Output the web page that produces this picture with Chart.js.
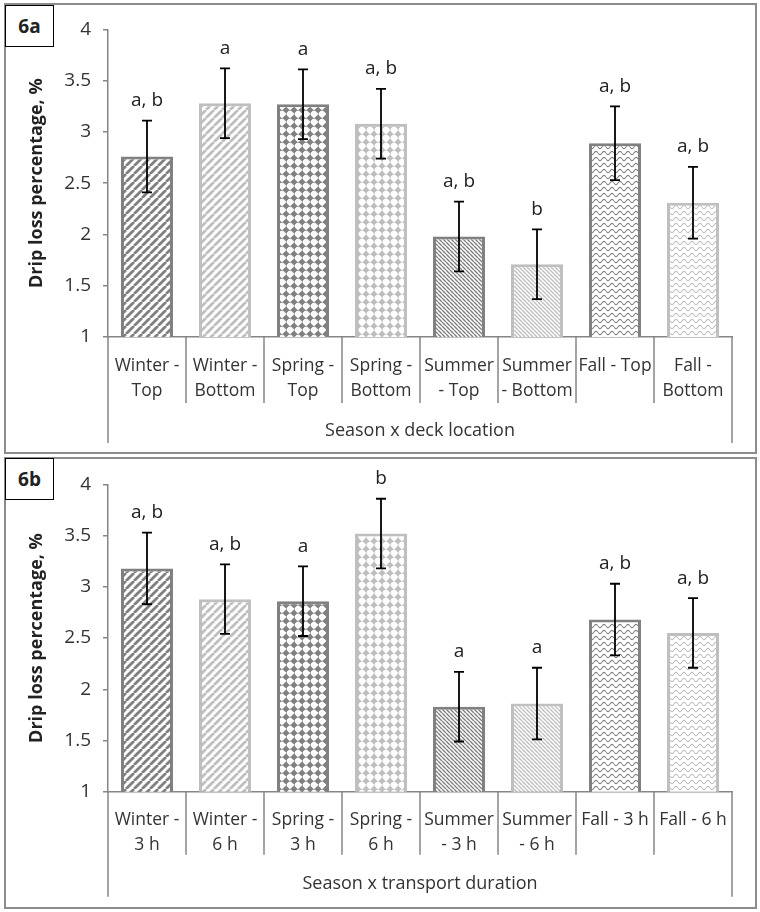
<!DOCTYPE html>
<html><head><meta charset="utf-8">
<script src="https://cdn.jsdelivr.net/npm/chart.js@4/dist/chart.umd.min.js"></script>
<style>
html,body{margin:0;padding:0;background:#fff;}
body{width:760px;height:912px;position:relative;overflow:hidden;font-family:'Open Sans',sans-serif;}
.panel{position:absolute;left:4px;width:753px;box-sizing:border-box;border:2px solid #8c8c8c;}
#pa{top:3px;height:451px;}
#pb{top:457px;height:452px;}
.tag{position:absolute;left:5px;width:49px;height:42px;box-sizing:border-box;border:1.5px solid #000;background:#fff;
 font:bold 19px 'Open Sans',sans-serif;color:#222;display:flex;align-items:center;justify-content:center;z-index:5;}
#ta{top:5px;}
#tb{top:458px;}
.cv{position:absolute;left:6px;}
</style>
</head><body>
<div class="panel" id="pa"></div>
<div class="panel" id="pb"></div>
<div class="tag" id="ta">6a</div>
<div class="tag" id="tb">6b</div>
<div class="cv" id="wa" style="top:6px;width:749px;height:445px;"><canvas id="ca"></canvas></div>
<div class="cv" id="wb" style="top:461px;width:749px;height:446px;"><canvas id="cb"></canvas></div>
<script>
// ---------- data ----------
const categoriesA = [["Winter -","Top"],["Winter -","Bottom"],["Spring -","Top"],["Spring -","Bottom"],["Summer","- Top"],["Summer","- Bottom"],["Fall - Top"],["Fall -","Bottom"]];
const valuesA = [2.76, 3.28, 3.27, 3.08, 1.98, 1.71, 2.89, 2.31];
const errorsA = [0.35, 0.34, 0.34, 0.34, 0.34, 0.34, 0.36, 0.35];
const lettersA = ["a, b","a","a","a, b","a, b","b","a, b","a, b"];
const xTitleA = "Season x deck location";

const categoriesB = [["Winter -","3 h"],["Winter -","6 h"],["Spring -","3 h"],["Spring -","6 h"],["Summer","- 3 h"],["Summer","- 6 h"],["Fall - 3 h"],["Fall - 6 h"]];
const valuesB = [3.18, 2.88, 2.86, 3.52, 1.83, 1.86, 2.68, 2.55];
const errorsB = [0.35, 0.34, 0.34, 0.34, 0.34, 0.35, 0.35, 0.34];
const lettersB = ["a, b","a, b","a","b","a","a","a, b","a, b"];
const xTitleB = "Season x transport duration";

const yTitle = "Drip loss percentage, %";
const yTickValues = [1, 1.5, 2, 2.5, 3, 3.5, 4];
const yTickLabels = ["1", "1.5", "2", "2.5", "3", "3.5", "4"];
const yMin = 1, yMax = 4, yStep = 0.5;

// ---------- patterns ----------
const DARK = '#808080', LIGHT = '#bfbfbf';
function mk(w,h,draw){const c=document.createElement('canvas');c.width=w;c.height=h;const x=c.getContext('2d');x.fillStyle='#fff';x.fillRect(0,0,w,h);draw(x,w,h);return x.createPattern(c,'repeat');}
function diagUp(col,s,lw){return mk(s,s,(x,w,h)=>{x.strokeStyle=col;x.lineWidth=lw;x.beginPath();for(let k=-1;k<=1;k++){x.moveTo(k*w,h);x.lineTo(k*w+w,0);}x.stroke();});}
function diagDown(col,s,lw){return mk(s,s,(x,w,h)=>{x.strokeStyle=col;x.lineWidth=lw;x.beginPath();for(let k=-1;k<=1;k++){x.moveTo(k*w,0);x.lineTo(k*w+w,h);}x.stroke();});}
function diamonds(col,s,d){return mk(s,s,(x,w,h)=>{x.fillStyle=col;
  [[0,0],[w,0],[0,h],[w,h]].forEach(([cx,cy])=>{x.beginPath();x.moveTo(cx-d,cy);x.lineTo(cx,cy-d);x.lineTo(cx+d,cy);x.lineTo(cx,cy+d);x.closePath();x.fill();});
  x.fillRect(0,0,w,0.6);x.fillRect(0,0,0.6,h);});}
function wave(col,w,h){return mk(w,h,(x)=>{x.strokeStyle=col;x.lineWidth=1.1;x.beginPath();for(let i=0;i<=w;i+=0.5){const y=h/2+1.6*Math.sin(i/w*Math.PI*2);if(i===0)x.moveTo(i,y);else x.lineTo(i,y);}x.stroke();});}
const fills = [diagUp(DARK,8,2.8), diagUp(LIGHT,8,2.8), diamonds(DARK,8,3.6), diamonds(LIGHT,8,3.4),
               diagDown(DARK,4,1.4), diagDown(LIGHT,4,1.4), wave(DARK,8,6), wave(LIGHT,8,6)];
const borders = [DARK,LIGHT,DARK,LIGHT,DARK,LIGHT,DARK,LIGHT];

const FONT = "'Open Sans', sans-serif";
const AXIS = '#868686';
const TXT = '#333';

function makeChart(id, cats, vals, errs, letters, xTitle, opts){
  const decor = {
    id:'decor',
    afterDatasetsDraw(chart){
      const ctx = chart.ctx, ys = chart.scales.y, xs = chart.scales.x;
      const meta = chart.getDatasetMeta(0);
      ctx.save();
      ctx.strokeStyle = '#000'; ctx.lineWidth = 1.8;
      vals.forEach((v,i)=>{
        const x = meta.data[i].x;
        const yt = ys.getPixelForValue(v+errs[i]), yb = ys.getPixelForValue(v-errs[i]);
        ctx.beginPath();
        ctx.moveTo(x,yt); ctx.lineTo(x,yb);
        ctx.moveTo(x-5,yt); ctx.lineTo(x+5,yt);
        ctx.moveTo(x-5,yb); ctx.lineTo(x+5,yb);
        ctx.stroke();
        ctx.fillStyle = '#222'; ctx.font = "19px "+FONT; ctx.textAlign='center'; ctx.textBaseline='middle';
        ctx.fillText(letters[i], x, yt-20);
      });
      // category separators
      const n = vals.length, area = chart.chartArea, yAx = area.bottom;
      ctx.strokeStyle = AXIS; ctx.lineWidth = 1.5;
      for(let i=0;i<=n;i++){
        let x;
        if(i===0) x = area.left; else if(i===n) x = area.right;
        else x = (xs.getPixelForValue(i-1)+xs.getPixelForValue(i))/2;
        const len = (i===0||i===n) ? opts.edgeLen : opts.sepLen;
        ctx.beginPath(); ctx.moveTo(x,yAx); ctx.lineTo(x,yAx+len); ctx.stroke();
      }
      ctx.restore();
    }
  };
  return new Chart(document.getElementById(id), {
    type:'bar',
    data:{labels:cats, datasets:[{data:vals, backgroundColor:fills, borderColor:borders, borderWidth:3, barPercentage:0.667, categoryPercentage:1}]},
    options:{
      responsive:true, maintainAspectRatio:false, animation:false,
      layout:{padding:{left:0,right:23,top:opts.top,bottom:0}},
      plugins:{legend:{display:false}, tooltip:{enabled:false}},
      scales:{
        x:{
          grid:{display:false},
          border:{color:AXIS,width:1.5},
          ticks:{color:TXT, font:{family:FONT,size:17.5,lineHeight:'25px'}, padding:opts.tickPad, maxRotation:0, autoSkip:false},
          title:{display:true,text:xTitle,color:TXT,font:{family:FONT,size:18},padding:{top:0,bottom:opts.xTitlePad}},
          afterFit(s){ s.height = opts.xHeight; }
        },
        y:{
          min:yMin, max:yMax,
          grid:{drawOnChartArea:false, tickLength:5, color:AXIS, lineWidth:1.5},
          border:{color:AXIS,width:1.5},
          ticks:{stepSize:yStep, color:TXT, font:{family:FONT,size:19}, padding:12,
                 callback(v){ const k = yTickValues.indexOf(v); return k>=0 ? yTickLabels[k] : ''; }},
          title:{display:true,text:yTitle,color:'#222',font:{family:FONT,size:18,weight:'bold'},padding:{top:20,bottom:0}},
          afterFit(s){ s.width = 102; }
        }
      }
    },
    plugins:[decor]
  });
}
makeChart('ca', categoriesA, valuesA, errorsA, lettersA, xTitleA, {top:21, xHeight:114, sepLen:66, edgeLen:106, xTitlePad:9, tickPad:9});
makeChart('cb', categoriesB, valuesB, errorsB, lettersB, xTitleB, {top:21.3, xHeight:115.3, sepLen:63, edgeLen:105, xTitlePad:12, tickPad:8});
</script>
</body></html>
